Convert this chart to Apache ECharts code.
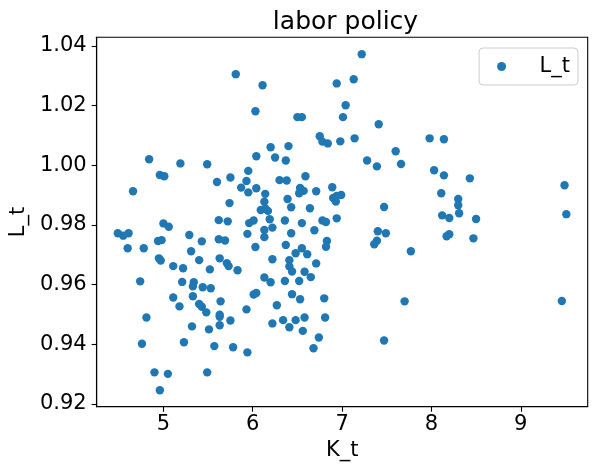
<!DOCTYPE html>
<html>
<head>
<meta charset="utf-8">
<script src="https://cdn.jsdelivr.net/npm/echarts@6/dist/echarts.min.js"></script>
<style>
html,body{margin:0;padding:0;background:#fff;}
#chart{width:598px;height:473px;}
</style>
</head>
<body>
<div id="chart"></div>
<script>
const K_t = [
  4.66,4.84,4.96,5.01,5.19,5.49,5.60,5.75,5.74,5.81,5.95,5.93,5.87,5.95,
  5.00,5.06,5.62,5.72,5.96,6.01,
  4.49,4.55,4.61,4.60,4.78,4.94,4.98,5.29,5.43,5.62,5.69,5.94,6.03,
  5.31,4.95,4.97,5.40,5.63,5.71,5.73,5.83,5.11,5.22,5.52,
  4.74,5.21,5.34,5.33,5.44,5.53,6.01,6.04,5.11,5.33,5.64,5.18,5.40,5.43,5.48,5.93,
  5.63,5.63,4.81,5.75,5.63,5.32,5.51,4.76,5.23,5.57,5.78,5.94,4.90,5.05,5.49,4.96,
  6.03,6.04,6.04,6.11,6.20,6.25,6.37,6.40,6.50,6.55,6.59,6.30,6.38,6.14,6.13,
  6.53,6.57,6.52,6.71,6.89,6.90,6.93,6.99,6.94,6.39,6.43,6.64,6.09,6.14,6.17,
  6.19,6.36,6.55,6.78,6.82,6.94,6.13,6.22,6.13,6.43,6.69,6.83,6.82,6.37,6.48,6.55,6.61,
  6.22,6.41,6.41,6.44,6.71,6.58,6.65,6.13,6.20,6.36,6.52,6.44,6.53,6.80,6.27,7.70,
  6.22,6.34,6.48,6.58,6.41,6.81,6.56,6.74,6.68,7.47,
  7.22,7.13,6.94,7.04,7.01,7.41,6.75,6.78,6.84,6.98,7.14,7.28,7.39,7.60,7.66,
  7.47,7.40,7.49,7.39,7.36,7.77,
  7.98,8.14,8.03,8.14,8.43,8.11,8.30,8.30,8.31,8.12,8.20,8.50,8.17,8.20,8.47,
  9.49,9.51,9.46
];
const L_t = [
  0.9913,1.0020,0.9967,0.9963,1.0006,1.0003,0.9944,0.9959,0.9873,1.0305,0.9981,0.9947,0.9925,0.9909,
  0.9805,0.9794,0.9816,0.9812,0.9806,0.9815,
  0.9772,0.9764,0.9772,0.9722,0.9722,0.9746,0.9749,0.9766,0.9745,0.9752,0.9748,0.9770,0.9726,
  0.9712,0.9688,0.9681,0.9682,0.9688,0.9672,0.9662,0.9648,0.9662,0.9655,0.9651,
  0.9611,0.9609,0.9608,0.9594,0.9591,0.9588,0.9567,0.9572,0.9557,0.9561,0.9544,0.9527,0.9535,0.9526,0.9507,0.9517,
  0.9499,0.9492,0.9490,0.9480,0.9464,0.9460,0.9450,0.9402,0.9407,0.9394,0.9390,0.9373,0.9306,0.9301,0.9306,0.9246,
  1.0181,1.0030,0.9923,1.0268,1.0060,1.0026,1.0016,1.0064,1.0161,1.0161,0.9963,0.9950,0.9949,0.9904,0.9878,
  0.9924,0.9914,0.9906,0.9913,0.9926,0.9890,0.9878,0.9900,0.9897,0.9887,0.9859,0.9856,0.9850,0.9855,0.9847,
  0.9819,0.9815,0.9806,0.9815,0.9810,0.9822,0.9783,0.9791,0.9759,0.9772,0.9782,0.9746,0.9727,0.9733,0.9705,0.9722,0.9702,
  0.9685,0.9682,0.9661,0.9644,0.9671,0.9643,0.9625,0.9624,0.9608,0.9612,0.9612,0.9568,0.9551,0.9554,0.9531,0.9544,
  0.9470,0.9481,0.9481,0.9490,0.9457,0.9490,0.9445,0.9423,0.9387,0.9413,
  1.0372,1.0288,1.0274,1.0201,1.0161,1.0137,1.0097,1.0079,1.0073,1.0080,1.0090,1.0016,0.9996,1.0047,1.0004,
  0.9860,0.9779,0.9772,0.9747,0.9735,0.9712,
  1.0090,1.0087,0.9983,0.9966,0.9956,0.9906,0.9887,0.9866,0.9839,0.9832,0.9823,0.9820,0.9762,0.9769,0.9755,
  0.9933,0.9836,0.9545
];
const xTicks = [5, 6, 7, 8, 9];
const yTicks = [0.92, 0.94, 0.96, 0.98, 1.00, 1.02, 1.04];
const titleText = 'labor policy';
const xName = 'K_t';
const yName = 'L_t';
const seriesName = 'L_t';

const points = K_t.map((k, i) => [k, L_t[i]]);
const FONT = 'DejaVu Sans';

const chart = echarts.init(document.getElementById('chart'), null, {renderer: 'canvas'});
chart.setOption({
  animation: false,
  backgroundColor: '#ffffff',
  title: {
    text: titleText,
    left: 340.5,
    textAlign: 'center',
    top: 5,
    textStyle: {fontFamily: FONT, fontSize: 25, fontWeight: 'normal', color: '#000'}
  },
  legend: {
    data: [seriesName],
    right: 20,
    top: 48,
    orient: 'vertical',
    icon: 'circle',
    itemWidth: 20,
    itemHeight: 9,
    padding: [8, 8, 8, 18],
    borderColor: '#cccccc',
    borderWidth: 1,
    borderRadius: 4,
    backgroundColor: 'rgba(255,255,255,0.8)',
    textStyle: {fontFamily: FONT, fontSize: 21, color: '#000', padding: [0, 0, 0, 23]}
  },
  grid: {
    left: 93.3, right: 10.3, top: 37.3, bottom: 66.3,
    show: true, borderColor: '#000', borderWidth: 1.1, backgroundColor: 'transparent'
  },
  xAxis: {
    type: 'value',
    min: 4.2529, max: 9.7493,
    name: xName, nameLocation: 'middle', nameGap: 31.5,
    nameTextStyle: {fontFamily: FONT, fontSize: 21, color: '#000'},
    splitLine: {show: false},
    axisLine: {show: true, onZero: false, lineStyle: {color: '#000', width: 1.1}},
    axisTick: {show: true, length: 5, inside: false, customValues: xTicks, lineStyle: {color: '#000', width: 1.1}},
    axisLabel: {customValues: xTicks, margin: 7, fontFamily: FONT, fontSize: 21, color: '#000',
      formatter: v => String(v)}
  },
  yAxis: {
    type: 'value',
    min: 0.9191, max: 1.04285,
    name: yName, nameLocation: 'middle', nameGap: 61, nameRotate: 90,
    nameTextStyle: {fontFamily: FONT, fontSize: 21, color: '#000'},
    splitLine: {show: false},
    axisLine: {show: true, onZero: false, lineStyle: {color: '#000', width: 1.1}},
    axisTick: {show: true, length: 5, inside: false, customValues: yTicks, lineStyle: {color: '#000', width: 1.1}},
    axisLabel: {customValues: yTicks, margin: 10, fontFamily: FONT, fontSize: 21, color: '#000',
      formatter: v => v.toFixed(2)}
  },
  series: [{
    name: seriesName,
    type: 'scatter',
    data: points,
    symbol: 'circle',
    symbolSize: 8.4,
    itemStyle: {color: '#1f77b4', opacity: 1}
  }]
});
</script>
</body>
</html>
